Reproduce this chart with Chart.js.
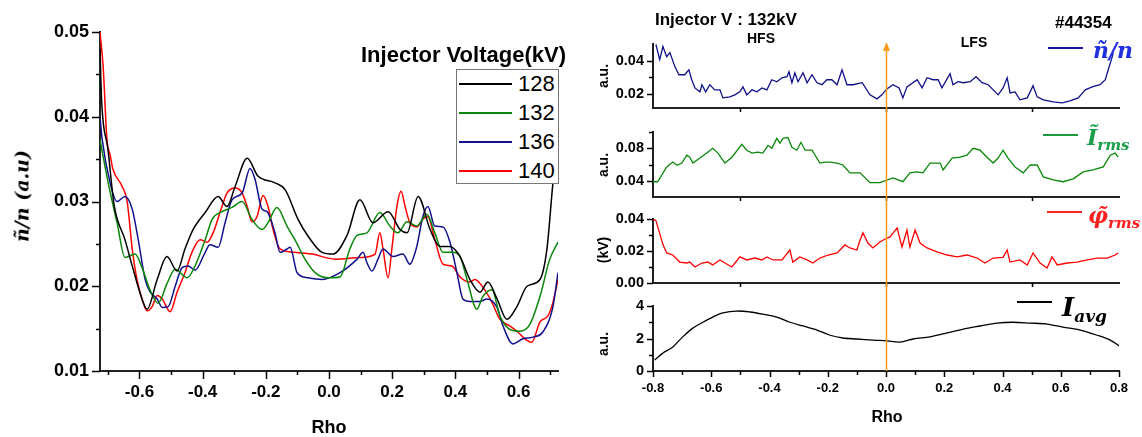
<!DOCTYPE html>
<html>
<head>
<meta charset="utf-8">
<title>Injector voltage scan</title>
<script src="https://cdn.jsdelivr.net/npm/chart.js@4.4.1/dist/chart.umd.min.js"></script>
<style>
  html, body { margin: 0; padding: 0; background: #fff; }
  #page { position: relative; width: 1142px; height: 437px; overflow: hidden; font-family: "Liberation Sans", Arial, sans-serif; }
  canvas { position: absolute; }
  .txt { position: absolute; white-space: nowrap; font-weight: bold; color: #000; line-height: 1; }
  .mid { transform: translate(-50%, -50%); }
  .lft { transform: translate(0, -50%); }
  .vl { transform: translate(-50%, -50%) rotate(-90deg); }
  .math { font-family: "DejaVu Serif", serif; font-style: italic; font-weight: bold; }
  #legBox { position: absolute; left: 456px; top: 69px; width: 101px; height: 113px; border: 1px solid #777; background: #fff; }
  .swatch { position: absolute; height: 0; border-top: 2px solid; }
</style>
</head>
<body>
<div id="page">
  <canvas id="cLeft" width="590" height="437" style="left:0;top:0"></canvas>
  <canvas id="cN" width="552" height="130" style="left:590px;top:0"></canvas>
  <canvas id="cI" width="552" height="105" style="left:590px;top:112px"></canvas>
  <canvas id="cPhi" width="552" height="104" style="left:590px;top:199px"></canvas>
  <canvas id="cAvg" width="552" height="151" style="left:590px;top:286px"></canvas>
  <canvas id="cArrow" width="552" height="437" style="left:590px;top:0"></canvas>

  <!-- left panel texts -->
  <div class="txt vl math" style="left:22px;top:196px;font-size:19px">ñ/n (a.u)</div>
  <div class="txt mid" style="left:329px;top:427px;font-size:18px">Rho</div>
  <div class="txt lft" style="left:361px;top:55px;font-size:22px">Injector Voltage(kV)</div>
  <div id="legBox"></div>

  <!-- right panel texts -->
  <div class="txt lft" style="left:655px;top:19px;font-size:17px">Injector V : 132kV</div>
  <div class="txt mid" style="left:761px;top:38px;font-size:14px">HFS</div>
  <div class="txt mid" style="left:974px;top:42px;font-size:14px">LFS</div>
  <div class="txt lft" style="left:1055px;top:22px;font-size:17px">#44354</div>
  <div class="txt vl" style="left:603px;top:76px;font-size:14px">a.u.</div>
  <div class="txt vl" style="left:603px;top:165px;font-size:14px">a.u.</div>
  <div class="txt vl" style="left:603px;top:250px;font-size:14px">(kV)</div>
  <div class="txt vl" style="left:603px;top:344px;font-size:14px">a.u.</div>
  <div class="txt mid" style="left:887px;top:417px;font-size:16px">Rho</div>

  <div class="swatch" style="left:1048px;top:47px;width:35px;border-color:#1a1aa0"></div>
  <div class="txt lft math" style="left:1093px;top:50px;font-size:22px;color:#2030e0">ñ/n</div>
  <div class="swatch" style="left:1043px;top:134px;width:35px;border-color:#1a9a3a"></div>
  <div class="txt lft" style="left:1087px;top:137px;color:#1a9e4a"><span class="math" style="font-size:22px">Ĩ</span><span class="math" style="font-size:15px;position:relative;top:5px">rms</span></div>
  <div class="swatch" style="left:1047px;top:211px;width:35px;border-color:#ff2020"></div>
  <div class="txt lft" style="left:1088px;top:215px;color:#ff2020"><span class="math" style="font-size:22px">φ̃</span><span class="math" style="font-size:15px;position:relative;top:5px">rms</span></div>
  <div class="swatch" style="left:1017px;top:301px;width:35px;border-color:#000"></div>
  <div class="txt lft" style="left:1062px;top:307px"><span class="math" style="font-size:26px">I</span><span class="math" style="font-size:17px;position:relative;top:6px">avg</span></div>
</div>

<script>
// ---- left panel: fluctuation level for four injector voltages ----
const voltages = ['128', '132', '136', '140'];
const voltageColors = ['#000000', '#0a870a', '#10108f', '#ff0000'];

const rho128 = [-0.725, -0.72, -0.70, -0.68, -0.646, -0.623, -0.592, -0.576, -0.544, -0.513, -0.481, -0.456, -0.43, -0.392, -0.351, -0.323, -0.297, -0.259, -0.225, -0.171, -0.139, -0.098, -0.066, -0.022, 0.013, 0.057, 0.098, 0.139, 0.187, 0.225, 0.247, 0.282, 0.32, 0.351, 0.383, 0.415, 0.446, 0.478, 0.503, 0.532, 0.563, 0.595, 0.627, 0.668, 0.69, 0.709, 0.725];
const n128 = [0.048, 0.042, 0.0362, 0.0295, 0.0255, 0.0224, 0.0185, 0.0173, 0.0208, 0.0235, 0.0218, 0.0244, 0.0267, 0.0287, 0.0306, 0.0294, 0.0318, 0.0351, 0.033, 0.0322, 0.0314, 0.0279, 0.0259, 0.024, 0.0238, 0.026, 0.0302, 0.0275, 0.0288, 0.0267, 0.0263, 0.0306, 0.0267, 0.0247, 0.0247, 0.0235, 0.0208, 0.0193, 0.0205, 0.0185, 0.0161, 0.0176, 0.020, 0.0208, 0.0244, 0.0322, 0.0373];

const rho132 = [-0.725, -0.699, -0.671, -0.646, -0.614, -0.592, -0.566, -0.541, -0.513, -0.487, -0.449, -0.424, -0.392, -0.370, -0.339, -0.307, -0.275, -0.244, -0.212, -0.193, -0.165, -0.133, -0.108, -0.076, -0.044, -0.003, 0.035, 0.066, 0.089, 0.120, 0.161, 0.193, 0.218, 0.247, 0.278, 0.310, 0.335, 0.361, 0.392, 0.415, 0.437, 0.468, 0.487, 0.516, 0.541, 0.573, 0.604, 0.636, 0.668, 0.699, 0.725];
const n132 = [0.0373, 0.0322, 0.0275, 0.0234, 0.0238, 0.0222, 0.0195, 0.0180, 0.0203, 0.0220, 0.0210, 0.0224, 0.0255, 0.0279, 0.0288, 0.0293, 0.0300, 0.0279, 0.0267, 0.0275, 0.0293, 0.0271, 0.0255, 0.0232, 0.0216, 0.0210, 0.0211, 0.0244, 0.0260, 0.0263, 0.0287, 0.0271, 0.0263, 0.0276, 0.0271, 0.0285, 0.0263, 0.0240, 0.0240, 0.0235, 0.0208, 0.0173, 0.0188, 0.0196, 0.0165, 0.0149, 0.0147, 0.0155, 0.0188, 0.0232, 0.0252];

const rho136 = [-0.725, -0.718, -0.693, -0.671, -0.646, -0.623, -0.604, -0.582, -0.566, -0.544, -0.528, -0.509, -0.487, -0.465, -0.446, -0.424, -0.392, -0.377, -0.351, -0.329, -0.307, -0.275, -0.250, -0.234, -0.212, -0.196, -0.171, -0.155, -0.133, -0.123, -0.101, -0.066, -0.022, 0.035, 0.089, 0.108, 0.120, 0.136, 0.155, 0.171, 0.203, 0.234, 0.256, 0.278, 0.297, 0.313, 0.335, 0.361, 0.383, 0.405, 0.424, 0.446, 0.478, 0.500, 0.532, 0.551, 0.582, 0.614, 0.646, 0.677, 0.709, 0.725];
const n136 = [0.0400, 0.0373, 0.0322, 0.0300, 0.0306, 0.0291, 0.0255, 0.0208, 0.0193, 0.0185, 0.0175, 0.0176, 0.0200, 0.0222, 0.0224, 0.0219, 0.0240, 0.0249, 0.0246, 0.0275, 0.0302, 0.0310, 0.0339, 0.0326, 0.0291, 0.0288, 0.0263, 0.0240, 0.0244, 0.0246, 0.0216, 0.0210, 0.0208, 0.0216, 0.0232, 0.0240, 0.0228, 0.0218, 0.0232, 0.0244, 0.0235, 0.0238, 0.0226, 0.0247, 0.0282, 0.0294, 0.0271, 0.0270, 0.0252, 0.0216, 0.0185, 0.0182, 0.0182, 0.0185, 0.0175, 0.0153, 0.0132, 0.0138, 0.0140, 0.0146, 0.0176, 0.0216];

const rho140 = [-0.725, -0.715, -0.703, -0.693, -0.684, -0.655, -0.639, -0.623, -0.608, -0.592, -0.576, -0.560, -0.544, -0.528, -0.503, -0.481, -0.456, -0.434, -0.408, -0.386, -0.367, -0.339, -0.323, -0.297, -0.275, -0.259, -0.244, -0.228, -0.209, -0.193, -0.177, -0.155, -0.108, -0.054, 0.019, 0.098, 0.146, 0.161, 0.171, 0.187, 0.199, 0.215, 0.228, 0.241, 0.256, 0.278, 0.297, 0.313, 0.335, 0.361, 0.389, 0.415, 0.446, 0.462, 0.487, 0.516, 0.541, 0.573, 0.598, 0.620, 0.642, 0.668, 0.693, 0.709, 0.725];
const n140 = [0.0500, 0.0459, 0.0373, 0.0355, 0.0338, 0.0318, 0.0300, 0.0244, 0.0208, 0.0185, 0.0171, 0.0176, 0.0189, 0.0185, 0.0170, 0.0193, 0.0216, 0.0240, 0.0255, 0.0252, 0.0263, 0.0294, 0.0310, 0.0316, 0.0310, 0.0294, 0.0276, 0.0282, 0.0307, 0.0294, 0.0267, 0.0244, 0.0240, 0.0238, 0.0232, 0.0234, 0.0238, 0.0263, 0.0244, 0.0210, 0.0244, 0.0294, 0.0312, 0.0294, 0.0275, 0.0270, 0.0279, 0.0282, 0.0255, 0.0226, 0.0224, 0.0211, 0.0205, 0.0208, 0.0199, 0.0181, 0.0161, 0.0153, 0.0146, 0.0138, 0.0134, 0.0158, 0.0165, 0.0181, 0.0208];

const leftXTicks = [-0.7, -0.6, -0.5, -0.4, -0.3, -0.2, -0.1, 0, 0.1, 0.2, 0.3, 0.4, 0.5, 0.6, 0.7];
const leftXLabels = ['', '-0.6', '', '-0.4', '', '-0.2', '', '0.0', '', '0.2', '', '0.4', '', '0.6', ''];
const leftYTicks = [0.01, 0.015, 0.02, 0.025, 0.03, 0.035, 0.04, 0.045, 0.05];
const leftYLabels = ['0.01', '', '0.02', '', '0.03', '', '0.04', '', '0.05'];

// ---- right panel: shot #44354 profiles ----
const rhoN = [-0.790, -0.777, -0.766, -0.753, -0.742, -0.725, -0.711, -0.691, -0.677, -0.667, -0.656, -0.639, -0.632, -0.619, -0.605, -0.588, -0.570, -0.560, -0.536, -0.519, -0.502, -0.491, -0.478, -0.460, -0.443, -0.426, -0.409, -0.392, -0.375, -0.357, -0.340, -0.333, -0.323, -0.313, -0.302, -0.285, -0.271, -0.254, -0.237, -0.220, -0.203, -0.186, -0.168, -0.151, -0.134, -0.113, -0.082, -0.055, -0.031, -0.014, 0.003, 0.024, 0.045, 0.058, 0.072, 0.107, 0.124, 0.141, 0.162, 0.179, 0.192, 0.220, 0.230, 0.247, 0.265, 0.289, 0.309, 0.330, 0.351, 0.368, 0.385, 0.402, 0.416, 0.426, 0.443, 0.460, 0.485, 0.505, 0.519, 0.540, 0.574, 0.605, 0.632, 0.660, 0.684, 0.708, 0.735, 0.753, 0.763, 0.777, 0.780];
const fluctN = [0.0497, 0.0406, 0.0485, 0.0424, 0.0448, 0.0364, 0.0315, 0.0315, 0.0345, 0.0285, 0.0236, 0.0212, 0.0255, 0.0212, 0.0255, 0.0224, 0.0224, 0.0176, 0.0182, 0.0194, 0.0212, 0.0242, 0.0194, 0.0224, 0.0212, 0.0236, 0.0224, 0.0285, 0.0273, 0.0297, 0.0303, 0.0333, 0.0267, 0.0327, 0.0273, 0.0327, 0.0267, 0.0315, 0.0267, 0.0255, 0.0285, 0.0285, 0.0255, 0.0345, 0.0255, 0.0255, 0.0267, 0.0194, 0.0170, 0.0194, 0.0230, 0.0255, 0.0235, 0.0176, 0.0242, 0.0285, 0.0236, 0.0297, 0.0285, 0.0285, 0.0236, 0.0321, 0.0255, 0.0273, 0.0267, 0.0273, 0.0303, 0.0267, 0.0255, 0.0224, 0.0194, 0.0236, 0.0297, 0.0206, 0.0212, 0.0164, 0.0176, 0.0249, 0.0182, 0.0164, 0.0152, 0.0146, 0.0158, 0.0176, 0.0224, 0.0242, 0.0255, 0.0285, 0.0345, 0.0424, 0.0448];

const rhoI = [-0.801, -0.784, -0.753, -0.732, -0.718, -0.701, -0.684, -0.674, -0.663, -0.639, -0.612, -0.595, -0.577, -0.553, -0.529, -0.495, -0.478, -0.460, -0.440, -0.423, -0.405, -0.392, -0.375, -0.364, -0.354, -0.337, -0.323, -0.306, -0.292, -0.278, -0.254, -0.227, -0.210, -0.192, -0.168, -0.148, -0.124, -0.089, -0.055, -0.021, 0.024, 0.058, 0.082, 0.107, 0.127, 0.151, 0.186, 0.196, 0.227, 0.254, 0.278, 0.299, 0.323, 0.347, 0.368, 0.385, 0.402, 0.419, 0.443, 0.471, 0.495, 0.519, 0.540, 0.574, 0.608, 0.643, 0.677, 0.711, 0.746, 0.770, 0.787, 0.797];
const fluctI = [0.0388, 0.0388, 0.057, 0.063, 0.059, 0.0618, 0.0715, 0.069, 0.0618, 0.0679, 0.0752, 0.080, 0.074, 0.0618, 0.069, 0.0848, 0.0776, 0.074, 0.0752, 0.074, 0.0836, 0.080, 0.0921, 0.0861, 0.0921, 0.0933, 0.0812, 0.0776, 0.0873, 0.0776, 0.0776, 0.0618, 0.063, 0.063, 0.0618, 0.0594, 0.0497, 0.0497, 0.0376, 0.0376, 0.0436, 0.0388, 0.0497, 0.0509, 0.0497, 0.0618, 0.0618, 0.0533, 0.0679, 0.069, 0.0715, 0.080, 0.0776, 0.069, 0.0618, 0.0679, 0.0776, 0.0679, 0.057, 0.0497, 0.0594, 0.0594, 0.0448, 0.0412, 0.0388, 0.0424, 0.0509, 0.0533, 0.057, 0.0715, 0.074, 0.069];

const rhoPhi = [-0.801, -0.790, -0.777, -0.766, -0.753, -0.732, -0.708, -0.684, -0.674, -0.656, -0.632, -0.612, -0.595, -0.570, -0.553, -0.529, -0.502, -0.478, -0.450, -0.426, -0.409, -0.388, -0.357, -0.330, -0.320, -0.296, -0.271, -0.251, -0.227, -0.199, -0.168, -0.141, -0.124, -0.100, -0.089, -0.079, -0.062, -0.045, -0.021, 0.003, 0.014, 0.038, 0.055, 0.072, 0.082, 0.100, 0.117, 0.141, 0.175, 0.210, 0.244, 0.278, 0.313, 0.340, 0.368, 0.402, 0.416, 0.426, 0.460, 0.485, 0.505, 0.529, 0.553, 0.570, 0.588, 0.622, 0.656, 0.691, 0.725, 0.759, 0.787, 0.797];
const fluctPhi = [0.040, 0.039, 0.031, 0.024, 0.0188, 0.0175, 0.0131, 0.0125, 0.0131, 0.010, 0.0125, 0.0131, 0.0113, 0.0144, 0.0125, 0.010, 0.0163, 0.0144, 0.0156, 0.0144, 0.0163, 0.0144, 0.0144, 0.0206, 0.0131, 0.0163, 0.0144, 0.0125, 0.0156, 0.0175, 0.0188, 0.0238, 0.0219, 0.0206, 0.0269, 0.0313, 0.025, 0.0219, 0.0256, 0.0281, 0.0288, 0.0344, 0.0225, 0.0331, 0.0225, 0.0331, 0.025, 0.0219, 0.0194, 0.0175, 0.0163, 0.0175, 0.0156, 0.0125, 0.0156, 0.0160, 0.0206, 0.0131, 0.0144, 0.0113, 0.0188, 0.0125, 0.0094, 0.0163, 0.0113, 0.0125, 0.0131, 0.0144, 0.0156, 0.0156, 0.0175, 0.0188];

const rhoAvg = [-0.794, -0.766, -0.732, -0.698, -0.663, -0.629, -0.595, -0.560, -0.512, -0.467, -0.423, -0.375, -0.330, -0.285, -0.237, -0.192, -0.148, -0.100, -0.045, 0.003, 0.048, 0.093, 0.151, 0.210, 0.265, 0.323, 0.381, 0.436, 0.495, 0.553, 0.608, 0.667, 0.725, 0.770, 0.801];
const currentAvg = [0.68, 1.1, 1.48, 2.1, 2.64, 3.0, 3.32, 3.57, 3.69, 3.63, 3.5, 3.32, 3.0, 2.77, 2.52, 2.2, 2.03, 1.97, 1.9, 1.85, 1.78, 1.97, 2.1, 2.34, 2.58, 2.77, 2.95, 3.0, 2.95, 2.89, 2.7, 2.52, 2.2, 1.9, 1.54];

const rightXTicks = [-0.8, -0.7, -0.6, -0.5, -0.4, -0.3, -0.2, -0.1, 0, 0.1, 0.2, 0.3, 0.4, 0.5, 0.6, 0.7, 0.8];
const rightXLabels = ['-0.8', '', '-0.6', '', '-0.4', '', '-0.2', '', '0.0', '', '0.2', '', '0.4', '', '0.6', '', '0.8'];
const stripXTicks = [-0.5, 0, 0.5];
const stripXLabels = ['', '', ''];
const nTicks = [0.02, 0.03, 0.04];
const nLabels = ['0.02', '', '0.04'];
const iTicks = [0.04, 0.06, 0.08, 0.10];
const iLabels = ['0.04', '', '0.08', ''];
const phiTicks = [0, 0.01, 0.02, 0.03, 0.04];
const phiLabels = ['0.00', '', '0.02', '', '0.04'];
const avgTicks = [0, 1, 2, 3, 4];
const avgLabels = ['0', '', '2', '', '4'];

function pairs(xs, ys) {
  return xs.map((x, i) => ({ x: x, y: ys[i] }));
}

function setTicks(values) {
  return function (scale) {
    scale.ticks = values.map(v => ({ value: v }));
  };
}

// tick marks drawn by hand so that minor ticks can be shorter than major ones
const tickMarks = {
  id: 'tickMarks',
  afterDraw(chart, args, opts) {
    const ctx = chart.ctx;
    ctx.save();
    ctx.strokeStyle = '#000';
    ctx.lineWidth = opts.width || 1.5;
    ['x', 'y'].forEach(id => {
      const s = chart.scales[id];
      s.ticks.forEach(t => {
        const len = t.label ? opts.major : opts.minor;
        const p = Math.round(s.getPixelForValue(t.value)) + 0.5;
        ctx.beginPath();
        if (id === 'x') {
          ctx.moveTo(p, s.top);
          ctx.lineTo(p, s.top + len);
        } else {
          ctx.moveTo(s.left + s.width, p);
          ctx.lineTo(s.left + s.width - len, p);
        }
        ctx.stroke();
      });
    });
    ctx.restore();
  }
};

const gridOff = { display: true, drawOnChartArea: false, drawTicks: false };

const leftChart = new Chart(document.getElementById('cLeft'), {
  type: 'line',
  data: {
    datasets: [
      { label: voltages[0], data: pairs(rho128, n128), borderColor: voltageColors[0] },
      { label: voltages[1], data: pairs(rho132, n132), borderColor: voltageColors[1] },
      { label: voltages[2], data: pairs(rho136, n136), borderColor: voltageColors[2] },
      { label: voltages[3], data: pairs(rho140, n140), borderColor: voltageColors[3] }
    ]
  },
  options: {
    responsive: false,
    animation: false,
    devicePixelRatio: 1,
    layout: { padding: { top: 32, right: 32, left: 0, bottom: 0 } },
    elements: { point: { radius: 0 }, line: { borderWidth: 1.5, cubicInterpolationMode: 'monotone' } },
    plugins: { legend: { display: false }, tooltip: { enabled: false }, tickMarks: { major: 8, minor: 4, width: 1.5 } },
    scales: {
      x: {
        type: 'linear', min: -0.725, max: 0.725,
        afterBuildTicks: setTicks(leftXTicks),
        afterFit: s => { s.height = 66; },
        grid: gridOff,
        border: { color: '#222', width: 2 },
        ticks: { autoSkip: false, maxRotation: 0, padding: 11, color: '#000',
          font: { family: 'Liberation Sans', weight: 'bold', size: 17 },
          callback: (v, i) => leftXLabels[i] }
      },
      y: {
        min: 0.01, max: 0.05,
        afterBuildTicks: setTicks(leftYTicks),
        afterFit: s => { s.width = 100; },
        grid: gridOff,
        border: { color: '#222', width: 2 },
        ticks: { autoSkip: false, padding: 11, color: '#000',
          font: { family: 'Liberation Sans', weight: 'bold', size: 18 },
          callback: (v, i) => leftYLabels[i] }
      }
    }
  },
  plugins: [tickMarks]
});

// legend box of the left panel
const legBox = document.getElementById('legBox');
voltages.forEach((v, i) => {
  const y = 14 + i * 29;
  const sw = document.createElement('div');
  sw.className = 'swatch';
  sw.style.cssText = 'left:2px;width:53px;top:' + (y - 1) + 'px;border-color:' + voltageColors[i];
  legBox.appendChild(sw);
  const tx = document.createElement('div');
  tx.className = 'txt lft';
  tx.style.cssText = 'left:61px;top:' + y + 'px;font-size:22px;font-weight:normal';
  tx.textContent = v;
  legBox.appendChild(tx);
});

function strip(canvasId, xs, ys, o) {
  return new Chart(document.getElementById(canvasId), {
    type: 'line',
    data: { datasets: [{ data: pairs(xs, ys), borderColor: o.color, borderWidth: 1.3, pointRadius: 0, tension: o.tension || 0 }] },
    options: {
      responsive: false,
      animation: false,
      devicePixelRatio: 1,
      layout: { padding: { top: o.padTop, right: 23, left: 0, bottom: 0 } },
      plugins: { legend: { display: false }, tooltip: { enabled: false }, tickMarks: { major: 6, minor: 4, width: 1.5 } },
      scales: {
        x: {
          type: 'linear', min: -0.8, max: 0.8,
          afterBuildTicks: setTicks(o.xTicks),
          afterFit: s => { s.height = o.xHeight; },
          grid: gridOff,
          border: { color: '#222', width: 2 },
          ticks: { autoSkip: false, maxRotation: 0, padding: 10, color: '#000',
            font: { family: 'Liberation Sans', weight: 'bold', size: 13 },
            callback: (v, i) => o.xLabels[i] }
        },
        y: {
          min: o.yMin, max: o.yMax,
          afterBuildTicks: setTicks(o.yTicks),
          afterFit: s => { s.width = 63; },
          grid: gridOff,
          border: { color: '#222', width: 2 },
          ticks: { autoSkip: false, padding: 9, color: '#000',
            font: { family: 'Liberation Sans', weight: 'bold', size: 14.5 },
            callback: (v, i) => o.yLabels[i] }
        }
      }
    },
    plugins: [tickMarks]
  });
}

const chN = strip('cN', rhoN, fluctN, { color: '#10108a', padTop: 44, xHeight: 22, yMin: 0.0115, yMax: 0.05,
  yTicks: nTicks, yLabels: nLabels, xTicks: stripXTicks, xLabels: stripXLabels });
const chI = strip('cI', rhoI, fluctI, { color: '#0a870a', padTop: 20, xHeight: 20, yMin: 0.02, yMax: 0.1,
  yTicks: iTicks, yLabels: iLabels, xTicks: stripXTicks, xLabels: stripXLabels });
const chPhi = strip('cPhi', rhoPhi, fluctPhi, { color: '#ff0000', padTop: 20, xHeight: 20, yMin: 0, yMax: 0.04,
  yTicks: phiTicks, yLabels: phiLabels, xTicks: stripXTicks, xLabels: stripXLabels });
const chAvg = strip('cAvg', rhoAvg, currentAvg, { color: '#000000', padTop: 20, xHeight: 66, yMin: 0, yMax: 4, tension: 0.3,
  yTicks: avgTicks, yLabels: avgLabels, xTicks: rightXTicks, xLabels: rightXLabels });

// orange arrow marking rho = 0 through all strips
(function drawArrow() {
  const cv = document.getElementById('cArrow');
  const ctx = cv.getContext('2d');
  const x = Math.round(chAvg.scales.x.getPixelForValue(0)) + 0.5;
  const yTop = document.getElementById('cN').offsetTop + chN.chartArea.top - 2;
  const yBot = document.getElementById('cAvg').offsetTop + chAvg.chartArea.bottom;
  ctx.strokeStyle = '#ff9a1a';
  ctx.fillStyle = '#ff9a1a';
  ctx.lineWidth = 1.5;
  ctx.beginPath();
  ctx.moveTo(x, yTop + 4);
  ctx.lineTo(x, yBot);
  ctx.stroke();
  ctx.beginPath();
  ctx.moveTo(x, yTop);
  ctx.lineTo(x - 3.5, yTop + 9);
  ctx.lineTo(x + 3.5, yTop + 9);
  ctx.closePath();
  ctx.fill();
})();
</script>
</body>
</html>
